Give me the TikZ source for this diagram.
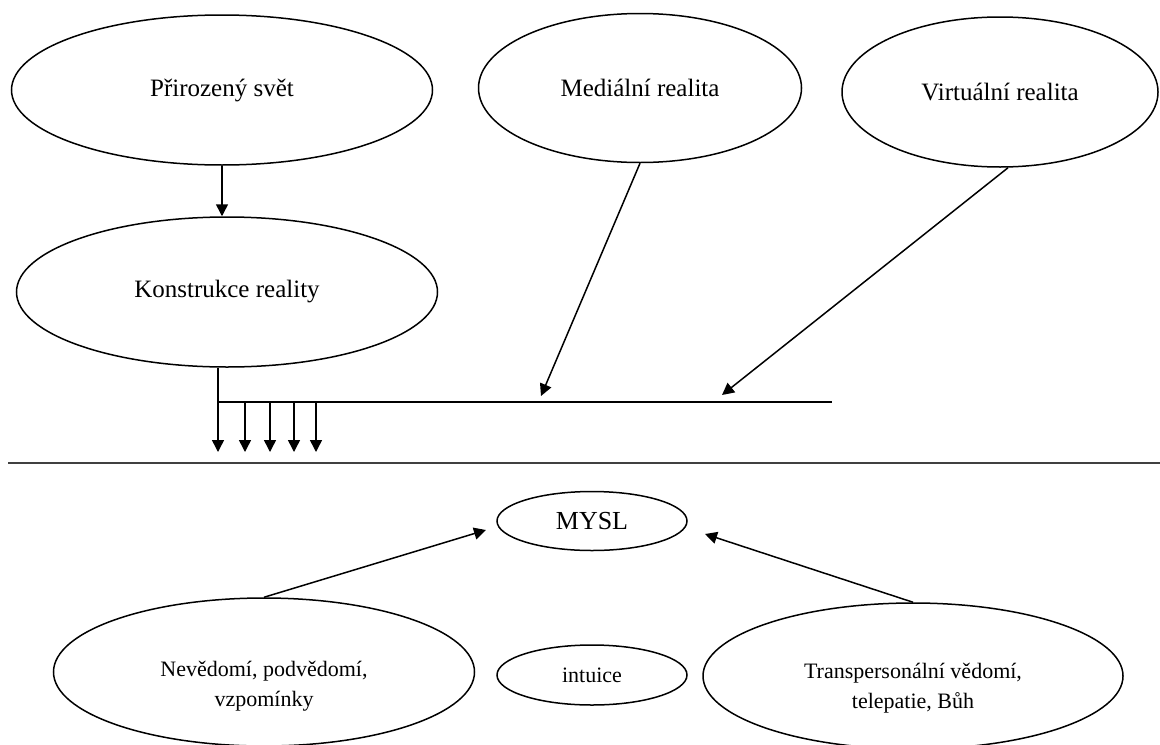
\documentclass[tikz,border=0pt]{standalone}
\usepackage{fontspec}
\setmainfont{Liberation Serif}
\usetikzlibrary{arrows.meta,shapes.geometric}

\begin{document}
\begin{tikzpicture}[x=0.5pt,y=-0.5pt,line width=0.75pt,
  bubble/.style={ellipse,draw,inner sep=0pt,font=\fontsize{12.5}{15}\selectfont},
  lowtext/.style={align=center,font=\fontsize{11}{15}\selectfont},
  arr/.style={-{Triangle[length=6pt,width=6pt]}}]
	\useasboundingbox (0,0) rectangle (1160,744);
	% horni cast
	\node[bubble,minimum width=210.5pt,minimum height=75pt] (prir) at (222,90) {Přirozený svět};
	\node[bubble,minimum width=210.5pt,minimum height=75pt] (konst) at (227,292) {Konstrukce reality};
	\node[bubble,minimum width=161.5pt,minimum height=74.5pt] (med) at (640,88) {Mediální realita};
	\node[bubble,minimum width=158pt,minimum height=75pt] (virt) at (1000,92) {Virtuální realita};
	\coordinate (hub) at (218,402);
	\coordinate (hubend) at (832,402);
	\coordinate (medtip) at (541,396);
	\coordinate (virttip) at (722,395);
	\draw[arr] (prir.south) -- (prir.south |- konst.north);
	\draw (konst.south -| hub) -- (hub) -- (hubend);
	\foreach \dx in {0,27,52,76,98}
		\draw[arr] ([xshift=\dx*0.5pt]hub) -- ++(0,50);
	\draw[arr] (med.south) -- (medtip);
	\draw[arr] ([xshift=4pt]virt.south) -- (virttip);
	% oddelovaci cara
	\draw[line width=1pt,black!75] (8,463) -- (1160,463);
	% dolni cast
	\node[bubble,font=\fontsize{13}{15}\selectfont,minimum width=95pt,minimum height=29.5pt] (mysl) at (592,521) {MYSL};
	\node[bubble,font=\fontsize{11}{15}\selectfont,minimum width=95pt,minimum height=30pt] (intu) at (592,675) {intuice};
	\node[bubble,minimum width=210.5pt,minimum height=74pt,
		label={[lowtext,yshift=-7pt]center:Nevědomí, podvědomí,\\vzpomínky}] (nevd) at (264,672) {};
	\node[bubble,minimum width=210pt,minimum height=73pt,
		label={[lowtext,yshift=-6pt]center:Transpersonální vědomí,\\telepatie, Bůh}] (trans) at (913,676) {};
	\coordinate (myslL) at (486,530);
	\coordinate (myslR) at (705,534);
	\draw[arr] (nevd.north) -- (myslL);
	\draw[arr] (trans.north) -- (myslR);
\end{tikzpicture}
\end{document}
